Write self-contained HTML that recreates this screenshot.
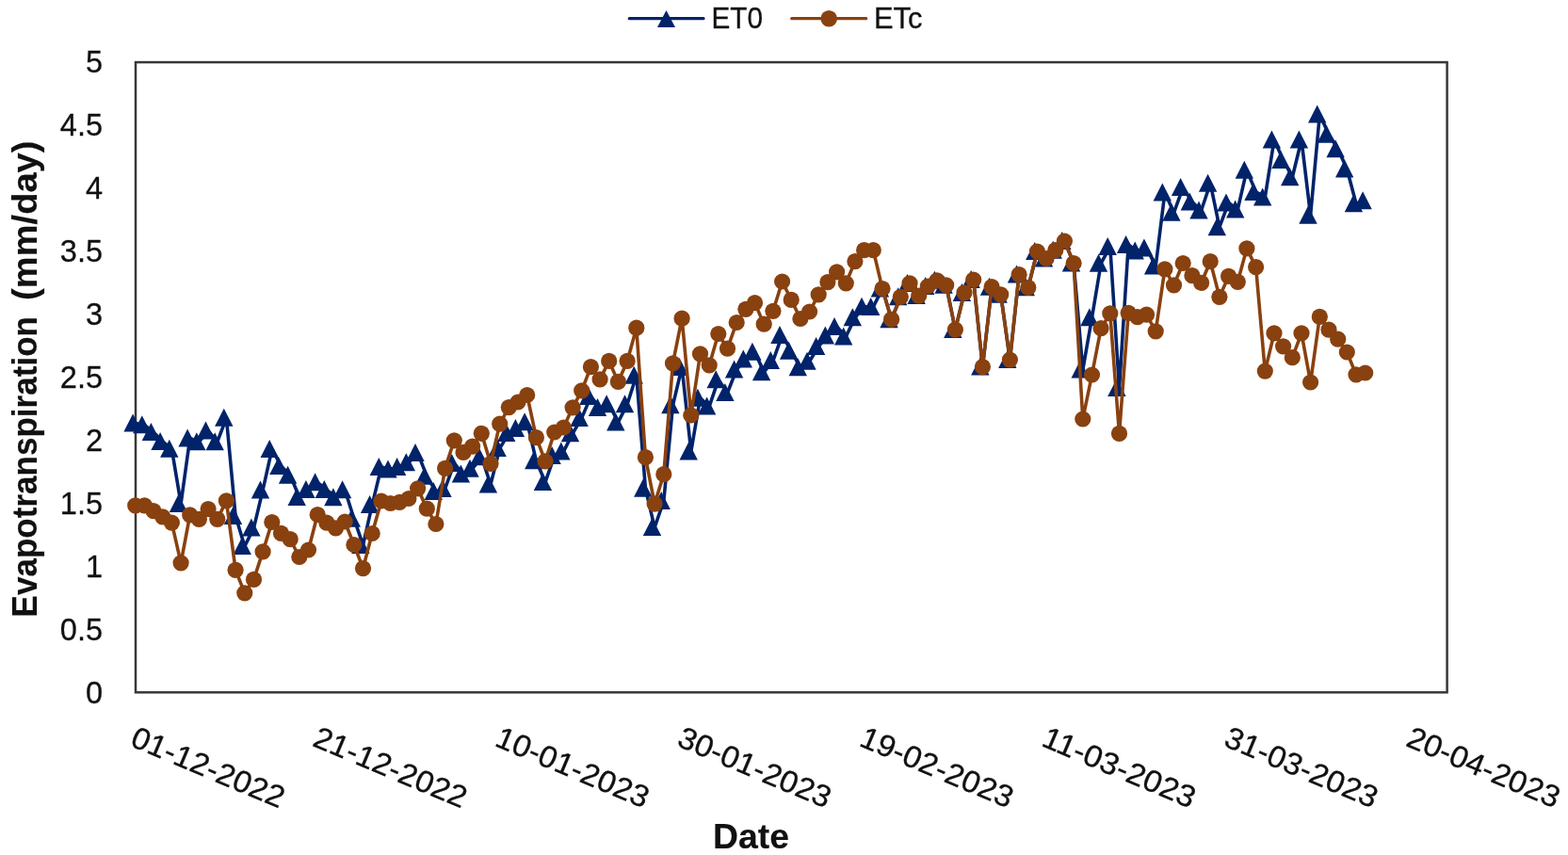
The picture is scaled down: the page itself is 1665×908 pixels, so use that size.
<!DOCTYPE html>
<html lang="en"><head><meta charset="utf-8"><title>Evapotranspiration chart</title>
<style>html,body{margin:0;padding:0;background:#fff}body{width:1665px;height:908px;overflow:hidden}svg{display:block}text{font-family:"Liberation Sans",sans-serif;fill:#111111;stroke:#111;stroke-width:.3px}.b{font-weight:bold;stroke-width:.15px}</style></head><body>
<svg width="1665" height="908" viewBox="0 0 1665 908">
<rect width="1665" height="908" fill="#fff"/>
<g id="chart">
<rect x="144" y="66.1" width="1392.6" height="669.2" fill="none" stroke="#383838" stroke-width="2.5"/>
<g font-size="32.5" text-anchor="end">
<text x="109" y="77.4">5</text>
<text x="109" y="144.3">4.5</text>
<text x="109" y="211.2">4</text>
<text x="109" y="278.2">3.5</text>
<text x="109" y="345.1">3</text>
<text x="109" y="412">2.5</text>
<text x="109" y="478.9">2</text>
<text x="109" y="545.8">1.5</text>
<text x="109" y="612.8">1</text>
<text x="109" y="679.7">0.5</text>
<text x="109" y="746.6">0</text>
</g>
<g font-size="32.5">
<text transform="translate(137,791.5) rotate(22.8)" textLength="173" lengthAdjust="spacingAndGlyphs">01-12-2022</text>
<text transform="translate(330.5,791.5) rotate(22.8)" textLength="173" lengthAdjust="spacingAndGlyphs">21-12-2022</text>
<text transform="translate(524,791.5) rotate(22.8)" textLength="173" lengthAdjust="spacingAndGlyphs">10-01-2023</text>
<text transform="translate(717.4,791.5) rotate(22.8)" textLength="173" lengthAdjust="spacingAndGlyphs">30-01-2023</text>
<text transform="translate(910.9,791.5) rotate(22.8)" textLength="173" lengthAdjust="spacingAndGlyphs">19-02-2023</text>
<text transform="translate(1104.4,791.5) rotate(22.8)" textLength="173" lengthAdjust="spacingAndGlyphs">11-03-2023</text>
<text transform="translate(1297.9,791.5) rotate(22.8)" textLength="173" lengthAdjust="spacingAndGlyphs">31-03-2023</text>
<text transform="translate(1491.4,791.5) rotate(22.8)" textLength="173" lengthAdjust="spacingAndGlyphs">20-04-2023</text>
</g>
<text class="b" font-size="37" x="797.5" y="901.2" text-anchor="middle" textLength="81" lengthAdjust="spacingAndGlyphs">Date</text>
<text class="b" font-size="37" transform="translate(38.6,655.5) rotate(-90)"><tspan x="0" y="0" textLength="319.5" lengthAdjust="spacingAndGlyphs">Evapotranspiration</tspan><tspan x="326" y="0" textLength="180" lengthAdjust="spacingAndGlyphs"> (mm/day)</tspan></text>
<line x1="668.3" y1="19.7" x2="747" y2="19.7" stroke="#01236a" stroke-width="3.2" stroke-linecap="round"/>
<path d="M707.5 11 L717 29 L698 29 Z" fill="#01236a"/>
<text font-size="32" x="755.5" y="30.4" textLength="54.5" lengthAdjust="spacingAndGlyphs">ET0</text>
<line x1="840.7" y1="19.7" x2="919.7" y2="19.7" stroke="#89410f" stroke-width="3.2" stroke-linecap="round"/>
<circle cx="880.2" cy="19.7" r="8.8" fill="#89410f"/>
<text font-size="32" x="928" y="30.4" textLength="51.5" lengthAdjust="spacingAndGlyphs">ETc</text>
<g id="et0">
<polyline fill="none" stroke="#01236a" stroke-width="3.6" stroke-linejoin="round" stroke-linecap="round" points="143.7,449.6 153.4,451.3 163,459.1 172.7,469 182.4,476.8 192.1,534.9 201.7,465.5 211.4,469.2 221.1,457.6 230.8,469.2 240.4,443.8 250.1,548.1 259.8,580.1 269.5,560.6 279.1,520.4 288.8,477 298.5,494.9 308.2,504.7 317.8,528 327.5,519.9 337.2,512.3 346.9,520.1 356.5,528.2 366.2,520.3 375.9,550.8 385.5,578.9 395.2,536.1 404.9,496.1 414.6,498.6 424.2,496.1 433.9,491.2 443.6,481.1 453.3,505.8 462.9,522.1 472.6,518.9 482.3,492.1 492,503.6 501.6,497.8 511.3,485.3 521,514.4 530.7,476.1 540.3,460.1 550,455 559.7,448.2 569.4,489.3 579,512.1 588.7,484.1 598.4,479.6 608.1,460.3 617.7,443.9 627.4,421.1 637.1,433.1 646.7,429.3 656.4,448.4 666.1,429.3 675.8,398.7 685.4,518.8 695.1,560.1 704.8,532 714.5,430.3 724.1,390 733.8,479.4 743.5,422.8 753.2,431.6 762.8,403.2 772.5,417 782.2,392.4 791.9,381.4 801.5,373.8 811.2,395.2 820.9,383.1 830.6,355.9 840.2,372.8 849.9,390.3 859.6,383.7 869.2,367.9 878.9,356.4 888.6,347.1 898.3,357.5 907.9,337.3 917.6,325.7 927.3,325.9 937,306.5 946.6,339.2 956.3,315.3 966,300.9 975.7,314.1 985.3,304 995,297.8 1004.7,302.8 1014.4,350.1 1024,310.9 1033.7,297.1 1043.4,389.6 1053.1,304.7 1062.7,312.8 1072.4,382.1 1082.1,291.5 1091.8,305.3 1101.4,267 1111.1,274.5 1120.8,265.7 1130.4,256 1140.1,279.5 1149.8,392.6 1159.5,337.3 1169.1,279.7 1178.8,261.9 1188.5,411.9 1198.2,260 1207.8,266.4 1217.5,263.4 1227.2,282.6 1236.9,204.6 1246.5,225.8 1256.2,199.1 1265.9,214.6 1275.6,223.5 1285.2,194.7 1294.9,241.2 1304.6,215.4 1314.3,222.4 1323.9,180.7 1333.6,203.9 1343.3,209.4 1353,148.5 1362.6,169.9 1372.3,188.2 1382,148.5 1391.6,228.7 1401.3,121.6 1411,142.8 1420.7,158.2 1430.3,179.5 1440,216.2 1449.7,213.3"/>
<path fill="#01236a" d="M141.1 439.6l9.7 19h-19.4zM150.8 441.3l9.7 19h-19.4zM160.4 449.1l9.7 19h-19.4zM170.1 459l9.7 19h-19.4zM179.8 466.8l9.7 19h-19.4zM189.5 524.9l9.7 19h-19.4zM199.1 455.5l9.7 19h-19.4zM208.8 459.2l9.7 19h-19.4zM218.5 447.6l9.7 19h-19.4zM228.2 459.2l9.7 19h-19.4zM237.8 433.8l9.7 19h-19.4zM247.5 538.1l9.7 19h-19.4zM257.2 570.1l9.7 19h-19.4zM266.9 550.6l9.7 19h-19.4zM276.5 510.4l9.7 19h-19.4zM286.2 467l9.7 19h-19.4zM295.9 484.9l9.7 19h-19.4zM305.6 494.7l9.7 19h-19.4zM315.2 518l9.7 19h-19.4zM324.9 509.9l9.7 19h-19.4zM334.6 502.3l9.7 19h-19.4zM344.3 510.1l9.7 19h-19.4zM353.9 518.2l9.7 19h-19.4zM363.6 510.3l9.7 19h-19.4zM373.3 540.8l9.7 19h-19.4zM382.9 568.9l9.7 19h-19.4zM392.6 526.1l9.7 19h-19.4zM402.3 486.1l9.7 19h-19.4zM412 488.6l9.7 19h-19.4zM421.6 486.1l9.7 19h-19.4zM431.3 481.2l9.7 19h-19.4zM441 471.1l9.7 19h-19.4zM450.7 495.8l9.7 19h-19.4zM460.3 512.1l9.7 19h-19.4zM470 508.9l9.7 19h-19.4zM479.7 482.1l9.7 19h-19.4zM489.4 493.6l9.7 19h-19.4zM499 487.8l9.7 19h-19.4zM508.7 475.3l9.7 19h-19.4zM518.4 504.4l9.7 19h-19.4zM528.1 466.1l9.7 19h-19.4zM537.7 450.1l9.7 19h-19.4zM547.4 445l9.7 19h-19.4zM557.1 438.2l9.7 19h-19.4zM566.8 479.3l9.7 19h-19.4zM576.4 502.1l9.7 19h-19.4zM586.1 474.1l9.7 19h-19.4zM595.8 469.6l9.7 19h-19.4zM605.5 450.3l9.7 19h-19.4zM615.1 433.9l9.7 19h-19.4zM624.8 411.1l9.7 19h-19.4zM634.5 423.1l9.7 19h-19.4zM644.1 419.3l9.7 19h-19.4zM653.8 438.4l9.7 19h-19.4zM663.5 419.3l9.7 19h-19.4zM673.2 388.7l9.7 19h-19.4zM682.8 508.8l9.7 19h-19.4zM692.5 550.1l9.7 19h-19.4zM702.2 522l9.7 19h-19.4zM711.9 420.3l9.7 19h-19.4zM721.5 380l9.7 19h-19.4zM731.2 469.4l9.7 19h-19.4zM740.9 412.8l9.7 19h-19.4zM750.6 421.6l9.7 19h-19.4zM760.2 393.2l9.7 19h-19.4zM769.9 407l9.7 19h-19.4zM779.6 382.4l9.7 19h-19.4zM789.3 371.4l9.7 19h-19.4zM798.9 363.8l9.7 19h-19.4zM808.6 385.2l9.7 19h-19.4zM818.3 373.1l9.7 19h-19.4zM828 345.9l9.7 19h-19.4zM837.6 362.8l9.7 19h-19.4zM847.3 380.3l9.7 19h-19.4zM857 373.7l9.7 19h-19.4zM866.6 357.9l9.7 19h-19.4zM876.3 346.4l9.7 19h-19.4zM886 337.1l9.7 19h-19.4zM895.7 347.5l9.7 19h-19.4zM905.3 327.3l9.7 19h-19.4zM915 315.7l9.7 19h-19.4zM924.7 315.9l9.7 19h-19.4zM934.4 296.5l9.7 19h-19.4zM944 329.2l9.7 19h-19.4zM953.7 305.3l9.7 19h-19.4zM963.4 290.9l9.7 19h-19.4zM973.1 304.1l9.7 19h-19.4zM982.7 294l9.7 19h-19.4zM992.4 287.8l9.7 19h-19.4zM1002.1 292.8l9.7 19h-19.4zM1011.8 340.1l9.7 19h-19.4zM1021.4 300.9l9.7 19h-19.4zM1031.1 287.1l9.7 19h-19.4zM1040.8 379.6l9.7 19h-19.4zM1050.5 294.7l9.7 19h-19.4zM1060.1 302.8l9.7 19h-19.4zM1069.8 372.1l9.7 19h-19.4zM1079.5 281.5l9.7 19h-19.4zM1089.2 295.3l9.7 19h-19.4zM1098.8 257l9.7 19h-19.4zM1108.5 264.5l9.7 19h-19.4zM1118.2 255.7l9.7 19h-19.4zM1127.8 246l9.7 19h-19.4zM1137.5 269.5l9.7 19h-19.4zM1147.2 382.6l9.7 19h-19.4zM1156.9 327.3l9.7 19h-19.4zM1166.5 269.7l9.7 19h-19.4zM1176.2 251.9l9.7 19h-19.4zM1185.9 401.9l9.7 19h-19.4zM1195.6 250l9.7 19h-19.4zM1205.2 256.4l9.7 19h-19.4zM1214.9 253.4l9.7 19h-19.4zM1224.6 272.6l9.7 19h-19.4zM1234.3 194.6l9.7 19h-19.4zM1243.9 215.8l9.7 19h-19.4zM1253.6 189.1l9.7 19h-19.4zM1263.3 204.6l9.7 19h-19.4zM1273 213.5l9.7 19h-19.4zM1282.6 184.7l9.7 19h-19.4zM1292.3 231.2l9.7 19h-19.4zM1302 205.4l9.7 19h-19.4zM1311.7 212.4l9.7 19h-19.4zM1321.3 170.7l9.7 19h-19.4zM1331 193.9l9.7 19h-19.4zM1340.7 199.4l9.7 19h-19.4zM1350.4 138.5l9.7 19h-19.4zM1360 159.9l9.7 19h-19.4zM1369.7 178.2l9.7 19h-19.4zM1379.4 138.5l9.7 19h-19.4zM1389 218.7l9.7 19h-19.4zM1398.7 111.6l9.7 19h-19.4zM1408.4 132.8l9.7 19h-19.4zM1418.1 148.2l9.7 19h-19.4zM1427.7 169.5l9.7 19h-19.4zM1437.4 206.2l9.7 19h-19.4zM1447.1 203.3l9.7 19h-19.4z"/>
</g>
<g id="etc">
<polyline fill="none" stroke="#89410f" stroke-width="3.6" stroke-linejoin="round" stroke-linecap="round" points="143.7,536.9 153.4,536.9 163,542.6 172.7,548.8 182.4,555.1 192.1,597.8 201.7,546.9 211.4,551.3 221.1,540.7 230.8,551.3 240.4,531.9 250.1,605.3 259.8,629.8 269.5,615.4 279.1,585.9 288.8,554.5 298.5,566.4 308.2,572.7 317.8,591.5 327.5,584 337.2,546.5 346.9,555.2 356.5,560.9 366.2,554 375.9,578.5 385.5,603.6 395.2,566.5 404.9,532 414.6,534.5 424.2,533.3 433.9,529.5 443.6,518.8 453.3,540.2 462.9,556.5 472.6,497.3 482.3,467.8 492,480.4 501.6,474.1 511.3,460.3 521,492.3 530.7,450.2 540.3,432.6 550,427 559.7,419.5 569.4,464.7 579,489.8 588.7,459 598.4,454 608.1,432.8 617.7,414.8 627.4,389.7 637.1,402.9 646.7,383.4 656.4,405.4 666.1,383.4 675.8,348.2 685.4,485.7 695.1,535.1 704.8,503.7 714.5,385.9 724.1,338.2 733.8,441 743.5,375.9 753.2,387.8 762.8,354.5 772.5,370.2 782.2,342.5 791.9,328.3 801.5,321.6 811.2,344.2 820.9,330.3 830.6,299 840.2,318.4 849.9,338.5 859.6,331 869.2,312.8 878.9,299.6 888.6,288.9 898.3,300.8 907.9,277.6 917.6,265.7 927.3,265.7 937,306.5 946.6,339.2 956.3,315.3 966,300.9 975.7,314.1 985.3,304 995,297.8 1004.7,302.8 1014.4,350.1 1024,310.9 1033.7,297.1 1043.4,389.6 1053.1,304.7 1062.7,312.8 1072.4,382.1 1082.1,291.5 1091.8,305.3 1101.4,267 1111.1,274.5 1120.8,265.7 1130.4,256 1140.1,279.5 1149.8,445 1159.5,398 1169.1,348.7 1178.8,332.9 1188.5,460.4 1198.2,332.3 1207.8,336.7 1217.5,334.2 1227.2,351.8 1236.9,285.8 1246.5,302.8 1256.2,279.5 1265.9,292.7 1275.6,300.3 1285.2,277.7 1294.9,315.3 1304.6,293.4 1314.3,299.3 1323.9,263.9 1333.6,283.6 1343.3,394.1 1353,353.9 1362.6,367.8 1372.3,379.7 1382,353.9 1391.6,406 1401.3,336.4 1411,350.2 1420.7,360.2 1430.3,374 1440,397.9 1449.7,396"/>
<g fill="#89410f">
<circle cx="143.7" cy="536.9" r="8.6"/>
<circle cx="153.4" cy="536.9" r="8.6"/>
<circle cx="163" cy="542.6" r="8.6"/>
<circle cx="172.7" cy="548.8" r="8.6"/>
<circle cx="182.4" cy="555.1" r="8.6"/>
<circle cx="192.1" cy="597.8" r="8.6"/>
<circle cx="201.7" cy="546.9" r="8.6"/>
<circle cx="211.4" cy="551.3" r="8.6"/>
<circle cx="221.1" cy="540.7" r="8.6"/>
<circle cx="230.8" cy="551.3" r="8.6"/>
<circle cx="240.4" cy="531.9" r="8.6"/>
<circle cx="250.1" cy="605.3" r="8.6"/>
<circle cx="259.8" cy="629.8" r="8.6"/>
<circle cx="269.5" cy="615.4" r="8.6"/>
<circle cx="279.1" cy="585.9" r="8.6"/>
<circle cx="288.8" cy="554.5" r="8.6"/>
<circle cx="298.5" cy="566.4" r="8.6"/>
<circle cx="308.2" cy="572.7" r="8.6"/>
<circle cx="317.8" cy="591.5" r="8.6"/>
<circle cx="327.5" cy="584" r="8.6"/>
<circle cx="337.2" cy="546.5" r="8.6"/>
<circle cx="346.9" cy="555.2" r="8.6"/>
<circle cx="356.5" cy="560.9" r="8.6"/>
<circle cx="366.2" cy="554" r="8.6"/>
<circle cx="375.9" cy="578.5" r="8.6"/>
<circle cx="385.5" cy="603.6" r="8.6"/>
<circle cx="395.2" cy="566.5" r="8.6"/>
<circle cx="404.9" cy="532" r="8.6"/>
<circle cx="414.6" cy="534.5" r="8.6"/>
<circle cx="424.2" cy="533.3" r="8.6"/>
<circle cx="433.9" cy="529.5" r="8.6"/>
<circle cx="443.6" cy="518.8" r="8.6"/>
<circle cx="453.3" cy="540.2" r="8.6"/>
<circle cx="462.9" cy="556.5" r="8.6"/>
<circle cx="472.6" cy="497.3" r="8.6"/>
<circle cx="482.3" cy="467.8" r="8.6"/>
<circle cx="492" cy="480.4" r="8.6"/>
<circle cx="501.6" cy="474.1" r="8.6"/>
<circle cx="511.3" cy="460.3" r="8.6"/>
<circle cx="521" cy="492.3" r="8.6"/>
<circle cx="530.7" cy="450.2" r="8.6"/>
<circle cx="540.3" cy="432.6" r="8.6"/>
<circle cx="550" cy="427" r="8.6"/>
<circle cx="559.7" cy="419.5" r="8.6"/>
<circle cx="569.4" cy="464.7" r="8.6"/>
<circle cx="579" cy="489.8" r="8.6"/>
<circle cx="588.7" cy="459" r="8.6"/>
<circle cx="598.4" cy="454" r="8.6"/>
<circle cx="608.1" cy="432.8" r="8.6"/>
<circle cx="617.7" cy="414.8" r="8.6"/>
<circle cx="627.4" cy="389.7" r="8.6"/>
<circle cx="637.1" cy="402.9" r="8.6"/>
<circle cx="646.7" cy="383.4" r="8.6"/>
<circle cx="656.4" cy="405.4" r="8.6"/>
<circle cx="666.1" cy="383.4" r="8.6"/>
<circle cx="675.8" cy="348.2" r="8.6"/>
<circle cx="685.4" cy="485.7" r="8.6"/>
<circle cx="695.1" cy="535.1" r="8.6"/>
<circle cx="704.8" cy="503.7" r="8.6"/>
<circle cx="714.5" cy="385.9" r="8.6"/>
<circle cx="724.1" cy="338.2" r="8.6"/>
<circle cx="733.8" cy="441" r="8.6"/>
<circle cx="743.5" cy="375.9" r="8.6"/>
<circle cx="753.2" cy="387.8" r="8.6"/>
<circle cx="762.8" cy="354.5" r="8.6"/>
<circle cx="772.5" cy="370.2" r="8.6"/>
<circle cx="782.2" cy="342.5" r="8.6"/>
<circle cx="791.9" cy="328.3" r="8.6"/>
<circle cx="801.5" cy="321.6" r="8.6"/>
<circle cx="811.2" cy="344.2" r="8.6"/>
<circle cx="820.9" cy="330.3" r="8.6"/>
<circle cx="830.6" cy="299" r="8.6"/>
<circle cx="840.2" cy="318.4" r="8.6"/>
<circle cx="849.9" cy="338.5" r="8.6"/>
<circle cx="859.6" cy="331" r="8.6"/>
<circle cx="869.2" cy="312.8" r="8.6"/>
<circle cx="878.9" cy="299.6" r="8.6"/>
<circle cx="888.6" cy="288.9" r="8.6"/>
<circle cx="898.3" cy="300.8" r="8.6"/>
<circle cx="907.9" cy="277.6" r="8.6"/>
<circle cx="917.6" cy="265.7" r="8.6"/>
<circle cx="927.3" cy="265.7" r="8.6"/>
<circle cx="937" cy="306.5" r="8.6"/>
<circle cx="946.6" cy="339.2" r="8.6"/>
<circle cx="956.3" cy="315.3" r="8.6"/>
<circle cx="966" cy="300.9" r="8.6"/>
<circle cx="975.7" cy="314.1" r="8.6"/>
<circle cx="985.3" cy="304" r="8.6"/>
<circle cx="995" cy="297.8" r="8.6"/>
<circle cx="1004.7" cy="302.8" r="8.6"/>
<circle cx="1014.4" cy="350.1" r="8.6"/>
<circle cx="1024" cy="310.9" r="8.6"/>
<circle cx="1033.7" cy="297.1" r="8.6"/>
<circle cx="1043.4" cy="389.6" r="8.6"/>
<circle cx="1053.1" cy="304.7" r="8.6"/>
<circle cx="1062.7" cy="312.8" r="8.6"/>
<circle cx="1072.4" cy="382.1" r="8.6"/>
<circle cx="1082.1" cy="291.5" r="8.6"/>
<circle cx="1091.8" cy="305.3" r="8.6"/>
<circle cx="1101.4" cy="267" r="8.6"/>
<circle cx="1111.1" cy="274.5" r="8.6"/>
<circle cx="1120.8" cy="265.7" r="8.6"/>
<circle cx="1130.4" cy="256" r="8.6"/>
<circle cx="1140.1" cy="279.5" r="8.6"/>
<circle cx="1149.8" cy="445" r="8.6"/>
<circle cx="1159.5" cy="398" r="8.6"/>
<circle cx="1169.1" cy="348.7" r="8.6"/>
<circle cx="1178.8" cy="332.9" r="8.6"/>
<circle cx="1188.5" cy="460.4" r="8.6"/>
<circle cx="1198.2" cy="332.3" r="8.6"/>
<circle cx="1207.8" cy="336.7" r="8.6"/>
<circle cx="1217.5" cy="334.2" r="8.6"/>
<circle cx="1227.2" cy="351.8" r="8.6"/>
<circle cx="1236.9" cy="285.8" r="8.6"/>
<circle cx="1246.5" cy="302.8" r="8.6"/>
<circle cx="1256.2" cy="279.5" r="8.6"/>
<circle cx="1265.9" cy="292.7" r="8.6"/>
<circle cx="1275.6" cy="300.3" r="8.6"/>
<circle cx="1285.2" cy="277.7" r="8.6"/>
<circle cx="1294.9" cy="315.3" r="8.6"/>
<circle cx="1304.6" cy="293.4" r="8.6"/>
<circle cx="1314.3" cy="299.3" r="8.6"/>
<circle cx="1323.9" cy="263.9" r="8.6"/>
<circle cx="1333.6" cy="283.6" r="8.6"/>
<circle cx="1343.3" cy="394.1" r="8.6"/>
<circle cx="1353" cy="353.9" r="8.6"/>
<circle cx="1362.6" cy="367.8" r="8.6"/>
<circle cx="1372.3" cy="379.7" r="8.6"/>
<circle cx="1382" cy="353.9" r="8.6"/>
<circle cx="1391.6" cy="406" r="8.6"/>
<circle cx="1401.3" cy="336.4" r="8.6"/>
<circle cx="1411" cy="350.2" r="8.6"/>
<circle cx="1420.7" cy="360.2" r="8.6"/>
<circle cx="1430.3" cy="374" r="8.6"/>
<circle cx="1440" cy="397.9" r="8.6"/>
<circle cx="1449.7" cy="396" r="8.6"/>
</g></g>
</g>
</svg></body></html>
